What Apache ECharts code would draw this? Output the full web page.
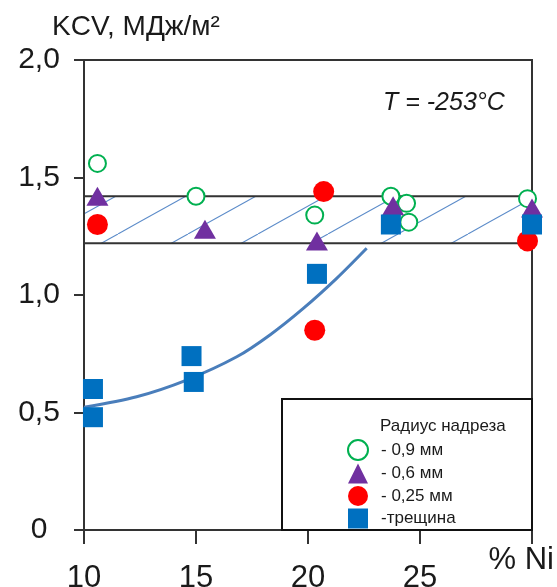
<!DOCTYPE html>
<html>
<head>
<meta charset="utf-8">
<script src="https://cdn.jsdelivr.net/npm/echarts@6/dist/echarts.min.js"></script>
<style>
html,body{margin:0;padding:0;background:#fff;}
#chart{width:557px;height:587px;}
</style>
</head>
<body>
<div id="chart"></div>
<script>
// ---- data ----
const xTickLabels = ['10', '15', '20', '25', ''];
const yTickLabels = ['0', '0,5', '1,0', '1,5', '2,0'];
const seriesNames = ['- 0,9 мм', '- 0,6 мм', '- 0,25 мм', '-трещина'];
const notch09 = [[10.6, 1.56], [15.0, 1.42], [20.3, 1.34], [23.7, 1.42], [24.4, 1.39], [24.5, 1.31], [29.8, 1.41]];
const notch06 = [[10.6, 1.42], [15.4, 1.28], [20.4, 1.23], [23.8, 1.38], [30.0, 1.37]];
const notch025 = [[10.6, 1.30], [20.7, 1.44], [20.3, 0.85], [29.8, 1.23]];
const crack = [[10.4, 0.60], [10.4, 0.48], [14.8, 0.74], [14.9, 0.63], [20.4, 1.09], [23.7, 1.30], [30.0, 1.30]];
const crackTrend = [[10, 0.522], [12.35, 0.567], [14.58, 0.638], [16.82, 0.737], [18.3, 0.83], [19.79, 0.943], [21.28, 1.071], [22.62, 1.199]];
const bandRange = [1.22, 1.42];
const legendTitle = 'Радиус надреза';
const yTitle = 'KCV, МДж/м²';
const xTitle = '% Ni';
const tempLabel = 'T = -253°C';

// ---- hatch pattern ----
function makeHatch() {
  const W = 70, H = 39;
  const c = document.createElement('canvas');
  c.width = W; c.height = H;
  const ctx = c.getContext('2d');
  ctx.strokeStyle = '#5b8bc9';
  ctx.lineWidth = 1.1;
  const off = 48;
  for (let k = -1; k <= 1; k++) {
    ctx.beginPath();
    ctx.moveTo(off + k * W, 0);
    ctx.lineTo(off + k * W - W, H);
    ctx.stroke();
  }
  return c;
}

const FONT = '"Liberation Sans", Arial, sans-serif';
const chart = echarts.init(document.getElementById('chart'), null, {renderer: 'canvas'});

const option = {
  animation: false,
  backgroundColor: '#fff',
  grid: {left: 84, right: 25, top: 60, bottom: 57, show: true, borderColor: '#333', borderWidth: 2,
    backgroundColor: 'transparent', containLabel: false, outerBoundsMode: 'none'},
  xAxis: {
    type: 'value', min: 10, max: 30, interval: 5,
    splitLine: {show: false},
    axisLine: {lineStyle: {color: '#333', width: 2}},
    axisTick: {length: 14, lineStyle: {color: '#333', width: 2}},
    axisLabel: {
      margin: 33, fontSize: 31, color: '#1a1a1a', fontFamily: FONT,
      formatter: (v) => xTickLabels[Math.round((v - 10) / 5)]
    }
  },
  yAxis: {
    type: 'value', min: 0, max: 2, interval: 0.5,
    splitLine: {show: false},
    axisLine: {lineStyle: {color: '#333', width: 2}},
    axisTick: {length: 10, lineStyle: {color: '#333', width: 2}},
    axisLabel: {
      margin: 45, align: 'center', fontSize: 30, color: '#1a1a1a', fontFamily: FONT,
      formatter: (v) => yTickLabels[Math.round(v / 0.5)]
    }
  },
  legend: {
    orient: 'vertical', left: 347, top: 439, padding: 0,
    itemWidth: 20, itemHeight: 20, itemGap: 2.5,
    textStyle: {fontSize: 17, color: '#1a1a1a', fontFamily: FONT, padding: [0, 0, 0, 8]},
    data: seriesNames
  },
  graphic: [
    {type: 'rect', shape: {x: 282, y: 399, width: 250, height: 131}, style: {fill: 'transparent', stroke: '#111', lineWidth: 2}, z: 5},
    {type: 'text', x: 380, y: 426, style: {text: legendTitle, font: '17px ' + FONT, fill: '#1a1a1a', verticalAlign: 'middle'}, z: 6},
    {type: 'text', x: 52, y: 27, style: {text: yTitle, font: '28px ' + FONT, fill: '#1a1a1a', verticalAlign: 'middle'}},
    {type: 'text', x: 554, y: 560, style: {text: xTitle, font: '31px ' + FONT, fill: '#1a1a1a', align: 'right', verticalAlign: 'middle'}},
    {type: 'text', x: 383, y: 103, style: {text: tempLabel, font: 'italic 25px ' + FONT, fill: '#1a1a1a', verticalAlign: 'middle'}}
  ],
  series: [
    {
      name: 'trend', type: 'line', data: crackTrend, smooth: 0.3, showSymbol: false, z: 2,
      lineStyle: {color: '#4a7ebb', width: 3},
      markArea: {
        silent: true,
        itemStyle: {color: {image: makeHatch(), repeat: 'repeat'}, borderColor: '#333', borderWidth: 2},
        data: [[{yAxis: bandRange[0]}, {yAxis: bandRange[1]}]]
      }
    },
    {name: seriesNames[0], type: 'scatter', data: notch09, symbol: 'circle', symbolSize: 17, clip: false, z: 4,
      itemStyle: {color: '#fff', borderColor: '#00b050', borderWidth: 2, opacity: 1}},
    {name: seriesNames[1], type: 'scatter', data: notch06, symbol: 'triangle', symbolSize: [22, 19], clip: false, z: 4,
      itemStyle: {color: '#7030a0', opacity: 1}},
    {name: seriesNames[2], type: 'scatter', data: notch025, symbol: 'circle', symbolSize: 21, clip: false, z: 4,
      itemStyle: {color: '#ff0000', opacity: 1}},
    {name: seriesNames[3], type: 'scatter', data: crack, symbol: 'rect', symbolSize: 20, clip: false, z: 4,
      itemStyle: {color: '#0070c0', opacity: 1}}
  ]
};
chart.setOption(option);
</script>
</body>
</html>
